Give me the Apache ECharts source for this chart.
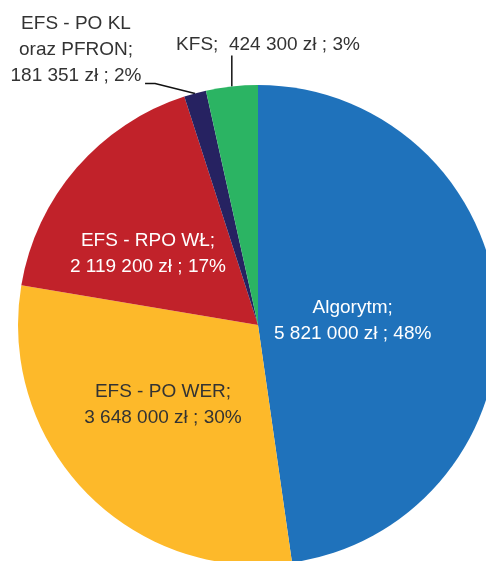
<!DOCTYPE html>
<html>
<head>
<meta charset="utf-8">
<script src="https://cdn.jsdelivr.net/npm/echarts@6/dist/echarts.min.js"></script>
<style>
  html, body { margin: 0; padding: 0; background: #fff; }
  #chart { width: 486px; height: 561px; }
</style>
</head>
<body>
<div id="chart"></div>
<script>
const names = ['Algorytm', 'EFS - PO WER', 'EFS - RPO WŁ', 'EFS - PO KL\noraz PFRON', 'KFS']
const values = [5821000, 3648000, 2119200, 181351, 424300]
const percentLabels = ['48%', '30%', '17%', '2%', '3%']
const colors = ['#1f72bb', '#fdb92a', '#c1222a', '#262261', '#2bb463']
const textColors = ['#ffffff', '#333333', '#ffffff', '#333333', '#333333']

const fontFamily = '"Liberation Sans", Arial, sans-serif'

// 5821000 -> "5 821 000"
const fmt = (v) => String(v).replace(/\B(?=(\d{3})+(?!\d))/g, ' ')

const chartInstance = echarts.init(document.getElementById('chart'))

const seriesData = names.map((n, i) => {
  const outside = i >= 3
  return {
    name: n,
    value: values[i],
    itemStyle: { color: colors[i] },
    label: {
      position: outside ? 'outside' : 'inside',
      color: textColors[i],
    },
    labelLine: { show: outside },
  }
})

// small manual nudges so labels sit where the original has them
const insideShift = [[-28, 5], [-7, -6], [-17, 9]]

const option = {
  backgroundColor: '#fff',
  animation: false,
  series: [
    {
      type: 'pie',
      center: [258, 325],
      radius: 240,
      startAngle: 90,
      clockwise: true,
      data: seriesData,
      label: {
        fontFamily: fontFamily,
        fontSize: 19,
        lineHeight: 26,
        align: 'center',
        overflow: 'none',
        formatter: (p) => {
          const i = p.dataIndex
          const sep = i === 4 ? ';  ' : ';\n'
          return names[i] + sep + fmt(values[i]) + ' zł ; ' + percentLabels[i]
        },
      },
      labelLine: {
        lineStyle: { color: '#111', width: 1.5 },
        smooth: false,
      },
      labelLayout: (params) => {
        const i = params.dataIndex
        if (i < 3) {
          return { dx: insideShift[i][0], dy: insideShift[i][1] }
        }
        const start = params.labelLinePoints ? params.labelLinePoints[0] : [0, 0]
        if (i === 3) {
          return {
            x: 76,
            y: 50,
            align: 'center',
            verticalAlign: 'middle',
            labelLinePoints: [start, [start[0] - 40, start[1] - 10], [start[0] - 50, start[1] - 10]],
          }
        }
        return {
          x: 268,
          y: 45,
          align: 'center',
          verticalAlign: 'middle',
          labelLinePoints: [start, [start[0], start[1] - 16], [start[0], start[1] - 31]],
        }
      },
    },
  ],
}
chartInstance.setOption(option)
</script>
</body>
</html>
